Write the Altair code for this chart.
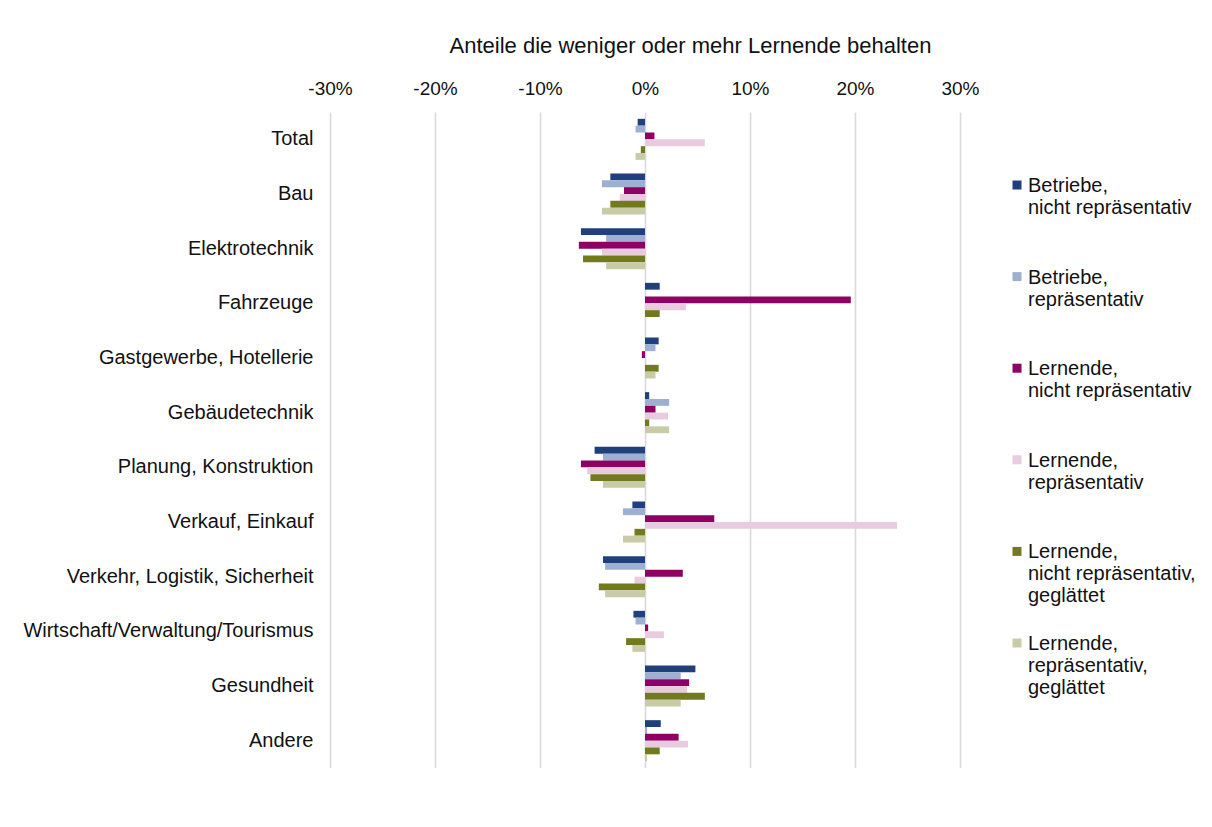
import altair as alt
import pandas as pd

categories = [
    "Total", "Bau", "Elektrotechnik", "Fahrzeuge", "Gastgewerbe, Hotellerie",
    "Gebäudetechnik", "Planung, Konstruktion", "Verkauf, Einkauf",
    "Verkehr, Logistik, Sicherheit", "Wirtschaft/Verwaltung/Tourismus",
    "Gesundheit", "Andere",
]

series = [
    "Betriebe, nicht repräsentativ",
    "Betriebe, repräsentativ",
    "Lernende, nicht repräsentativ",
    "Lernende, repräsentativ",
    "Lernende, nicht repräsentativ, geglättet",
    "Lernende, repräsentativ, geglättet",
]
legend_labels = [
    "Betriebe,\nnicht repräsentativ",
    "Betriebe,\nrepräsentativ",
    "Lernende,\nnicht repräsentativ",
    "Lernende,\nrepräsentativ",
    "Lernende,\nnicht repräsentativ,\ngeglättet",
    "Lernende,\nrepräsentativ,\ngeglättet",
]
colors = ["#1F3F7D", "#9EB0D1", "#8E0064", "#E9CBE0", "#717A1E", "#C9CBA7"]

# values in percent, per category (same order as categories)
betriebe_nr = [-0.7, -3.3, -6.1, 1.4, 1.3, 0.4, -4.8, -1.2, -4.0, -1.1, 4.8, 1.5]
betriebe_r = [-0.9, -4.1, -3.7, 0.0, 1.0, 2.3, -4.0, -2.1, -3.8, -0.9, 3.4, 0.2]
lernende_nr = [0.9, -2.0, -6.3, 19.6, -0.3, 1.0, -6.1, 6.6, 3.6, 0.3, 4.2, 3.2]
lernende_r = [5.7, -2.4, -4.1, 3.9, 0.0, 2.2, -5.5, 24.0, -1.0, 1.8, 4.0, 4.1]
lernende_nr_g = [-0.4, -3.3, -5.9, 1.4, 1.3, 0.4, -5.2, -1.0, -4.4, -1.8, 5.7, 1.4]
lernende_r_g = [-0.9, -4.1, -3.7, 0.0, 1.0, 2.3, -4.0, -2.1, -3.8, -1.2, 3.4, 0.2]

tick_values = [-30, -20, -10, 0, 10, 20, 30]
x_title = "Anteile die weniger oder mehr Lernende behalten"

all_values = [betriebe_nr, betriebe_r, lernende_nr, lernende_r, lernende_nr_g, lernende_r_g]
rows = []
for s, vals in zip(series, all_values):
    for c, v in zip(categories, vals):
        rows.append({"Kategorie": c, "Serie": s, "Wert": v})
df = pd.DataFrame(rows)
leg_df = pd.DataFrame({"Serie": series, "Label": legend_labels})

FONT = "Liberation Sans"
TXT = "#111111"
color_scale = alt.Scale(domain=series, range=colors)

bars = alt.Chart(df).mark_bar().encode(
    x=alt.X(
        "Wert:Q",
        scale=alt.Scale(domain=[-30, 30], nice=False, zero=False),
        axis=alt.Axis(
            orient="top", values=tick_values, labelExpr="datum.value + '%'",
            title=x_title, titleFontSize=22, titleFontWeight="normal", titleColor=TXT,
            titleFont=FONT, titlePadding=22, titleX=360, titleAlign="center",
            labelFontSize=19, labelColor=TXT, labelFont=FONT, labelPadding=14,
            labelFlush=False,
            ticks=False, tickSize=0, domain=False,
            grid=True, gridColor="#D9D9D9", gridWidth=1.6,
        ),
    ),
    y=alt.Y(
        "Kategorie:N", sort=categories,
        scale=alt.Scale(paddingInner=0.25, paddingOuter=0.125),
        axis=alt.Axis(
            title=None, labelFontSize=20, labelColor=TXT, labelFont=FONT,
            labelPadding=17, ticks=False, tickSize=0, domain=False, grid=False,
            labelLimit=400,
        ),
    ),
    yOffset=alt.YOffset("Serie:N", sort=series, scale=alt.Scale(paddingInner=0, paddingOuter=0)),
    color=alt.Color("Serie:N", scale=color_scale, legend=None),
).properties(width=630, height=656)

leg_y = alt.Y("Serie:N", sort=series,
              scale=alt.Scale(type="point", range=[73, 531], padding=0), axis=None)
leg_pts = alt.Chart(leg_df).mark_point(shape="square", filled=True, size=81, opacity=1, strokeWidth=0).encode(
    x=alt.value(16), y=leg_y,
    color=alt.Color("Serie:N", scale=color_scale, legend=None),
)
leg_txt = alt.Chart(leg_df).mark_text(
    align="left", baseline="alphabetic", dy=7, fontSize=20, lineBreak="\n",
    lineHeight=22, font=FONT, color=TXT,
).encode(x=alt.value(27), y=leg_y, text="Label:N")
legend = alt.layer(leg_pts, leg_txt).properties(width=150, height=600)

chart = alt.hconcat(bars, legend, spacing=21).properties(
    padding={"left": 14, "top": 26, "right": 0, "bottom": 0},
    background="white",
).configure_view(stroke=None)

chart.save("out.html", embed_options={"renderer": "svg", "actions": False})
